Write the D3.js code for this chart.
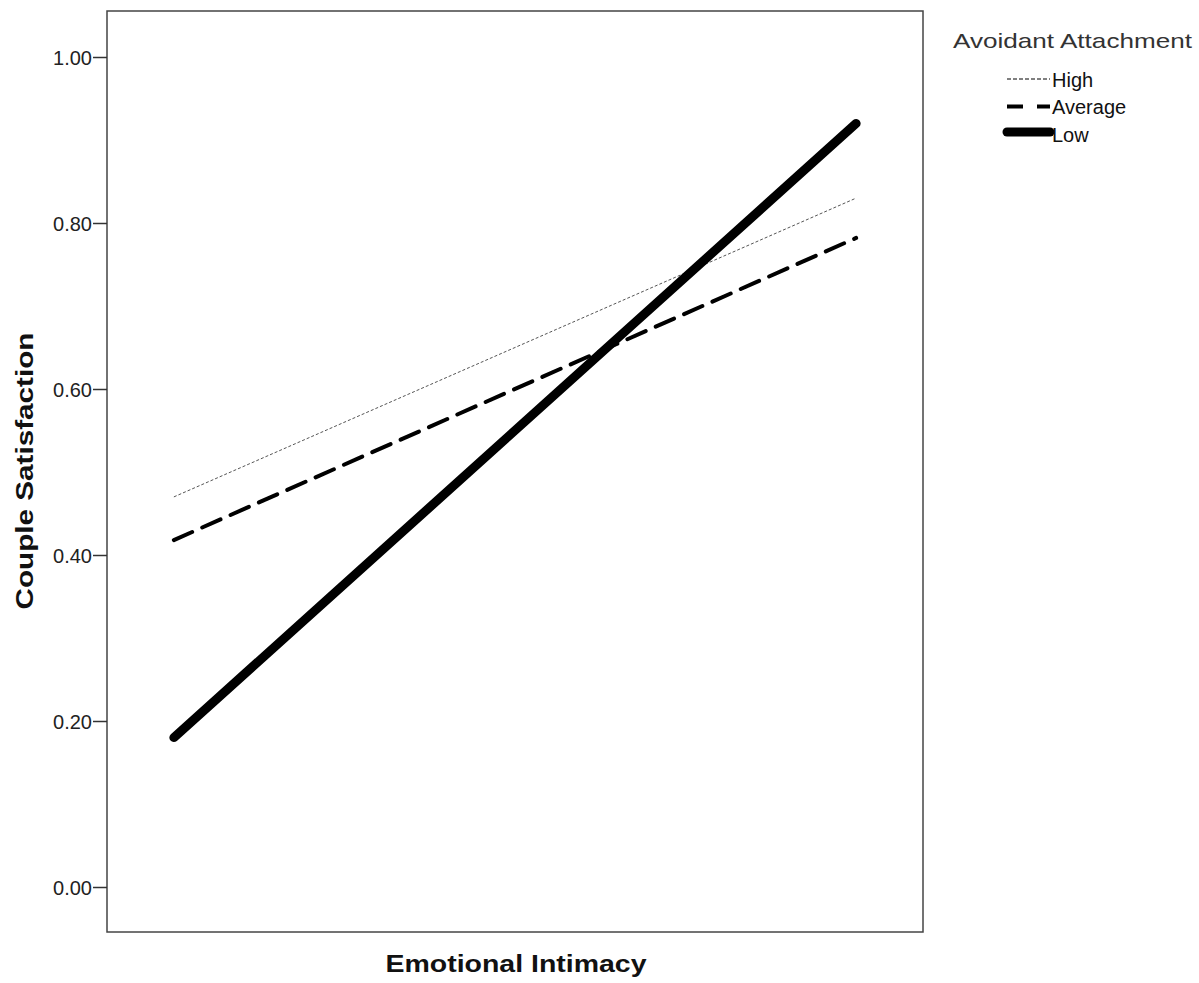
<!DOCTYPE html>
<html>
<head>
<meta charset="utf-8">
<script src="https://cdn.jsdelivr.net/npm/d3@7"></script>
<style>
  body { margin: 0; background: #fff; }
  text { font-family: "Liberation Sans", Arial, sans-serif; }
</style>
</head>
<body>
<div id="graph"></div>
<script>
//Data
const intimacyLevels = ['Low', 'High'];
const groups = ['High', 'Average', 'Low'];
const highValues = [0.47, 0.83];
const averageValues = [0.418, 0.782];
const lowValues = [0.18, 0.92];
const yTickValues = [0, 0.2, 0.4, 0.6, 0.8, 1.0];

const seriesConfig = [
  {name: groups[0], values: highValues, width: 1, dash: '3,2', legendDash: '4,2', cap: 'butt'},
  {name: groups[1], values: averageValues, width: 4, dash: '20,11', legendDash: '16,14', cap: 'round'},
  {name: groups[2], values: lowValues, width: 9, dash: null, legendDash: null, cap: 'round'}
];

//General config
const W = 1199, H = 983;
const margin = {top: 11, right: 276, bottom: 51, left: 107};
const width = W - margin.left - margin.right;
const height = H - margin.top - margin.bottom;

const svg = d3.select('#graph').append('svg')
  .attr('width', W)
  .attr('height', H);

const group = svg.append('g')
  .attr('transform', `translate(${margin.left}, ${margin.top})`);

//Scales
const x = d3.scalePoint().domain(intimacyLevels).range([0, width]).padding(0.098);
const y = d3.scaleLinear().domain([0, 1]).range([876, 46]);

//Frame
group.append('rect')
  .attr('width', width)
  .attr('height', height)
  .attr('fill', 'none')
  .attr('stroke', '#444')
  .attr('stroke-width', 1.5);

//Y axis
const yAxis = group.append('g')
  .call(d3.axisLeft(y).tickValues(yTickValues).tickFormat(d3.format('.2f')).tickSize(14).tickPadding(1));
yAxis.select('.domain').remove();
yAxis.selectAll('.tick line').attr('stroke', '#333').attr('stroke-width', 1.5);
yAxis.selectAll('.tick text')
  .attr('fill', '#222')
  .attr('dy', '0.36em')
  .style('font-size', '20px')
  .style('font-family', '"Liberation Sans", Arial, sans-serif');

//Axis titles
svg.append('text')
  .attr('x', 516)
  .attr('y', 972)
  .attr('text-anchor', 'middle')
  .attr('textLength', 261)
  .attr('lengthAdjust', 'spacingAndGlyphs')
  .style('font-size', '24px')
  .style('font-weight', 'bold')
  .attr('fill', '#111')
  .text('Emotional Intimacy');

svg.append('text')
  .attr('transform', `translate(33, 471) rotate(-90)`)
  .attr('text-anchor', 'middle')
  .attr('textLength', 277)
  .attr('lengthAdjust', 'spacingAndGlyphs')
  .style('font-size', '24px')
  .style('font-weight', 'bold')
  .attr('fill', '#111')
  .text('Couple Satisfaction');

//Lines
const line = d3.line()
  .x((d, i) => x(intimacyLevels[i]))
  .y(d => y(d));

group.selectAll('.series')
  .data(seriesConfig)
  .enter()
  .append('path')
  .attr('class', 'series')
  .attr('d', d => line(d.values))
  .attr('fill', 'none')
  .attr('stroke', d => d.name === 'High' ? '#555' : '#000')
  .attr('stroke-width', d => d.width)
  .attr('stroke-dasharray', d => d.dash)
  .attr('stroke-linecap', d => d.cap);

//Legend
const legend = svg.append('g').attr('transform', 'translate(953, 0)');
legend.append('text')
  .attr('x', 0)
  .attr('y', 48)
  .attr('textLength', 239)
  .attr('lengthAdjust', 'spacingAndGlyphs')
  .style('font-size', '21px')
  .attr('fill', '#333')
  .text('Avoidant Attachment');

const key = legend.selectAll('.key')
  .data(seriesConfig)
  .enter()
  .append('g')
  .attr('class', 'key')
  .attr('transform', (d, i) => `translate(0, ${79 + i * 27.5})`);

key.append('line')
  .attr('x1', d => d.name === 'High' ? 54 : 54)
  .attr('x2', 97)
  .attr('y1', d => d.name === 'Low' ? -2 : 0)
  .attr('y2', d => d.name === 'Low' ? -2 : 0)
  .attr('stroke', '#000')
  .attr('stroke-width', d => d.name === 'High' ? 1 : d.width)
  .attr('stroke-dasharray', d => d.legendDash)
  .attr('stroke-linecap', d => d.name === 'Low' ? 'round' : 'butt');

key.append('text')
  .attr('x', 99)
  .attr('y', 7.5)
  .style('font-size', '20px')
  .attr('fill', '#111')
  .text(d => d.name);
</script>
</body>
</html>
